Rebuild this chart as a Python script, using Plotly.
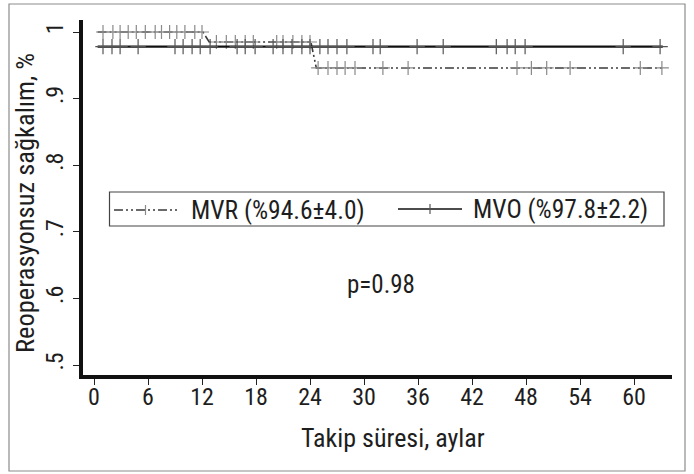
import plotly.graph_objects as go

# ---- data ----
mvr_curve_t = [0.4, 12.1, 12.8, 24.1, 24.7, 63.2]
mvr_curve_s = [1.0, 1.0, 0.985, 0.985, 0.946, 0.946]
mvr_cens_t = [1.0, 2.1, 2.9, 3.8, 4.7, 5.7, 6.8, 7.5, 8.4, 9.2, 10.1, 11.2, 12.0,
              13.6, 14.7, 15.7, 16.8, 17.7, 20.3, 21.0, 22.1, 23.1, 24.0,
              24.9, 26.0, 27.0, 27.9, 29.0, 32.1, 34.9, 47.0, 48.6, 50.3, 52.9, 60.7, 63.1]

mvo_curve_t = [0.4, 63.2]
mvo_curve_s = [0.978, 0.978]
mvo_cens_t = [1.0, 2.0, 2.9, 4.9, 9.0, 9.9, 10.9, 11.8, 12.9, 15.9, 16.8, 17.9, 19.9,
              21.0, 22.0, 23.1, 24.0, 25.1, 26.0, 27.0, 28.1, 31.0, 31.8, 35.9, 38.8,
              44.7, 45.9, 46.8, 47.9, 58.8, 62.9]

x_ticks = [0, 6, 12, 18, 24, 30, 36, 42, 48, 54, 60]
y_ticks = [0.5, 0.6, 0.7, 0.8, 0.9, 1.0]
y_tick_labels = [".5", ".6", ".7", ".8", ".9", "1"]

label_mvr = "MVR (%94.6±4.0)"
label_mvo = "MVO (%97.8±2.2)"
p_text = "p=0.98"
x_title = "Takip süresi, aylar"
y_title = "Reoperasyonsuz sağkalım, %"


def cens_values(ts, ss, cens):
    # censor marks sit on the curve's level at that time
    out = []
    for c in cens:
        v = ss[0]
        for i in range(len(ts)):
            if ts[i] <= c + 1e-9:
                v = ss[i]
        out.append(v)
    return out


FONT = "Roboto Condensed, Liberation Sans Narrow, DejaVu Sans Condensed, Arial Narrow, sans-serif"
W, H = 694, 474
ML, MR, MT, MB = 83, 22, 20, 99
PW, PH = W - ML - MR, H - MT - MB


def px(xp):
    return (xp - ML) / PW


def py(yp):
    return (H - MB - yp) / PH


MVR_DASH = "9px,3px,2px,3px,2px,3px"
MVR_LINE = "#3a3a3a"
MVR_MARK = "#8a8a8a"
TXT = "#1e1e1e"

fig = go.Figure()

fig.add_trace(go.Scatter(x=mvr_curve_t, y=mvr_curve_s, mode="lines",
                         line=dict(color=MVR_LINE, width=1.6, dash=MVR_DASH),
                         showlegend=False, hoverinfo="skip"))
fig.add_trace(go.Scatter(x=mvr_cens_t, y=cens_values(mvr_curve_t, mvr_curve_s, mvr_cens_t),
                         mode="markers",
                         marker=dict(symbol="cross-thin", size=10,
                                     line=dict(color=MVR_MARK, width=1.2)),
                         showlegend=False))
fig.add_trace(go.Scatter(x=mvo_curve_t, y=mvo_curve_s, mode="lines",
                         line=dict(color="#111111", width=2.2),
                         showlegend=False, hoverinfo="skip"))
fig.add_trace(go.Scatter(x=mvo_cens_t, y=cens_values(mvo_curve_t, mvo_curve_s, mvo_cens_t),
                         mode="markers",
                         marker=dict(symbol="cross-thin", size=11,
                                     line=dict(color="#555555", width=1.2)),
                         showlegend=False))

shapes = []
annotations = []

# outer frame
shapes.append(dict(type="rect", xref="paper", yref="paper",
                   x0=px(9), x1=px(685), y0=py(471), y1=py(4),
                   line=dict(color="#8c8c8c", width=1.2), layer="below"))

# legend box
shapes.append(dict(type="rect", xref="paper", yref="paper",
                   x0=px(109.5), x1=px(664), y0=py(226), y1=py(192),
                   line=dict(color="#444444", width=1.2), fillcolor="white"))
# legend samples
shapes.append(dict(type="line", xref="paper", yref="paper",
                   x0=px(114), x1=px(177), y0=py(210), y1=py(210),
                   line=dict(color=MVR_LINE, width=1.6, dash=MVR_DASH)))
shapes.append(dict(type="line", xref="paper", yref="paper",
                   x0=px(145.5), x1=px(145.5), y0=py(205), y1=py(215),
                   line=dict(color=MVR_MARK, width=1.2)))
shapes.append(dict(type="line", xref="paper", yref="paper",
                   x0=px(398), x1=px(462), y0=py(209), y1=py(209),
                   line=dict(color="#111111", width=1.6)))
shapes.append(dict(type="line", xref="paper", yref="paper",
                   x0=px(430), x1=px(430), y0=py(204), y1=py(214),
                   line=dict(color="#555555", width=1.2)))

annotations.append(dict(text=label_mvr, xref="paper", yref="paper",
                        x=px(189), y=py(210), xanchor="left", yanchor="middle",
                        showarrow=False, font=dict(family=FONT, size=25.5, color=TXT)))
annotations.append(dict(text=label_mvo, xref="paper", yref="paper",
                        x=px(471), y=py(209), xanchor="left", yanchor="middle",
                        showarrow=False, font=dict(family=FONT, size=25.5, color=TXT)))
annotations.append(dict(text=p_text, xref="paper", yref="paper",
                        x=px(381), y=py(284), xanchor="center", yanchor="middle",
                        showarrow=False, font=dict(family=FONT, size=25, color=TXT)))
annotations.append(dict(text=x_title, xref="paper", yref="paper",
                        x=px(393), y=py(438), xanchor="center", yanchor="middle",
                        showarrow=False, font=dict(family=FONT, size=26, color=TXT)))
annotations.append(dict(text=y_title, xref="paper", yref="paper",
                        x=px(24), y=py(203), xanchor="center", yanchor="middle",
                        textangle=-90,
                        showarrow=False, font=dict(family=FONT, size=26.5, color=TXT)))

fig.update_layout(
    width=W, height=H,
    margin=dict(l=ML, r=MR, t=MT, b=MB, autoexpand=False),
    paper_bgcolor="white", plot_bgcolor="white",
    font=dict(family=FONT, size=24, color=TXT),
    shapes=shapes, annotations=annotations,
    showlegend=False,
    xaxis=dict(range=[-(94 - ML) / 9, (W - MR - 94) / 9],
               tickmode="array", tickvals=x_ticks,
               ticks="outside", ticklen=6, tickwidth=1, tickcolor="#222",
               ticklabelstandoff=-9,
               showline=True, linewidth=4, linecolor="#111",
               showgrid=False, zeroline=False, fixedrange=True,
               tickfont=dict(family=FONT, size=24, color=TXT)),
    yaxis=dict(range=[0.5 - (H - MB - 365) / 666, 1 + (32 - MT) / 666],
               tickmode="array", tickvals=y_ticks, ticktext=y_tick_labels,
               ticks="outside", ticklen=6, tickwidth=1, tickcolor="#222",
               tickangle=-90,
               showline=True, linewidth=4, linecolor="#111",
               showgrid=False, zeroline=False, fixedrange=True,
               tickfont=dict(family=FONT, size=24, color=TXT)),
)

fig.write_html("out.html", config={"responsive": False, "displayModeBar": False},
               post_script="document.body.style.margin='0px';document.body.style.overflow='hidden';")
